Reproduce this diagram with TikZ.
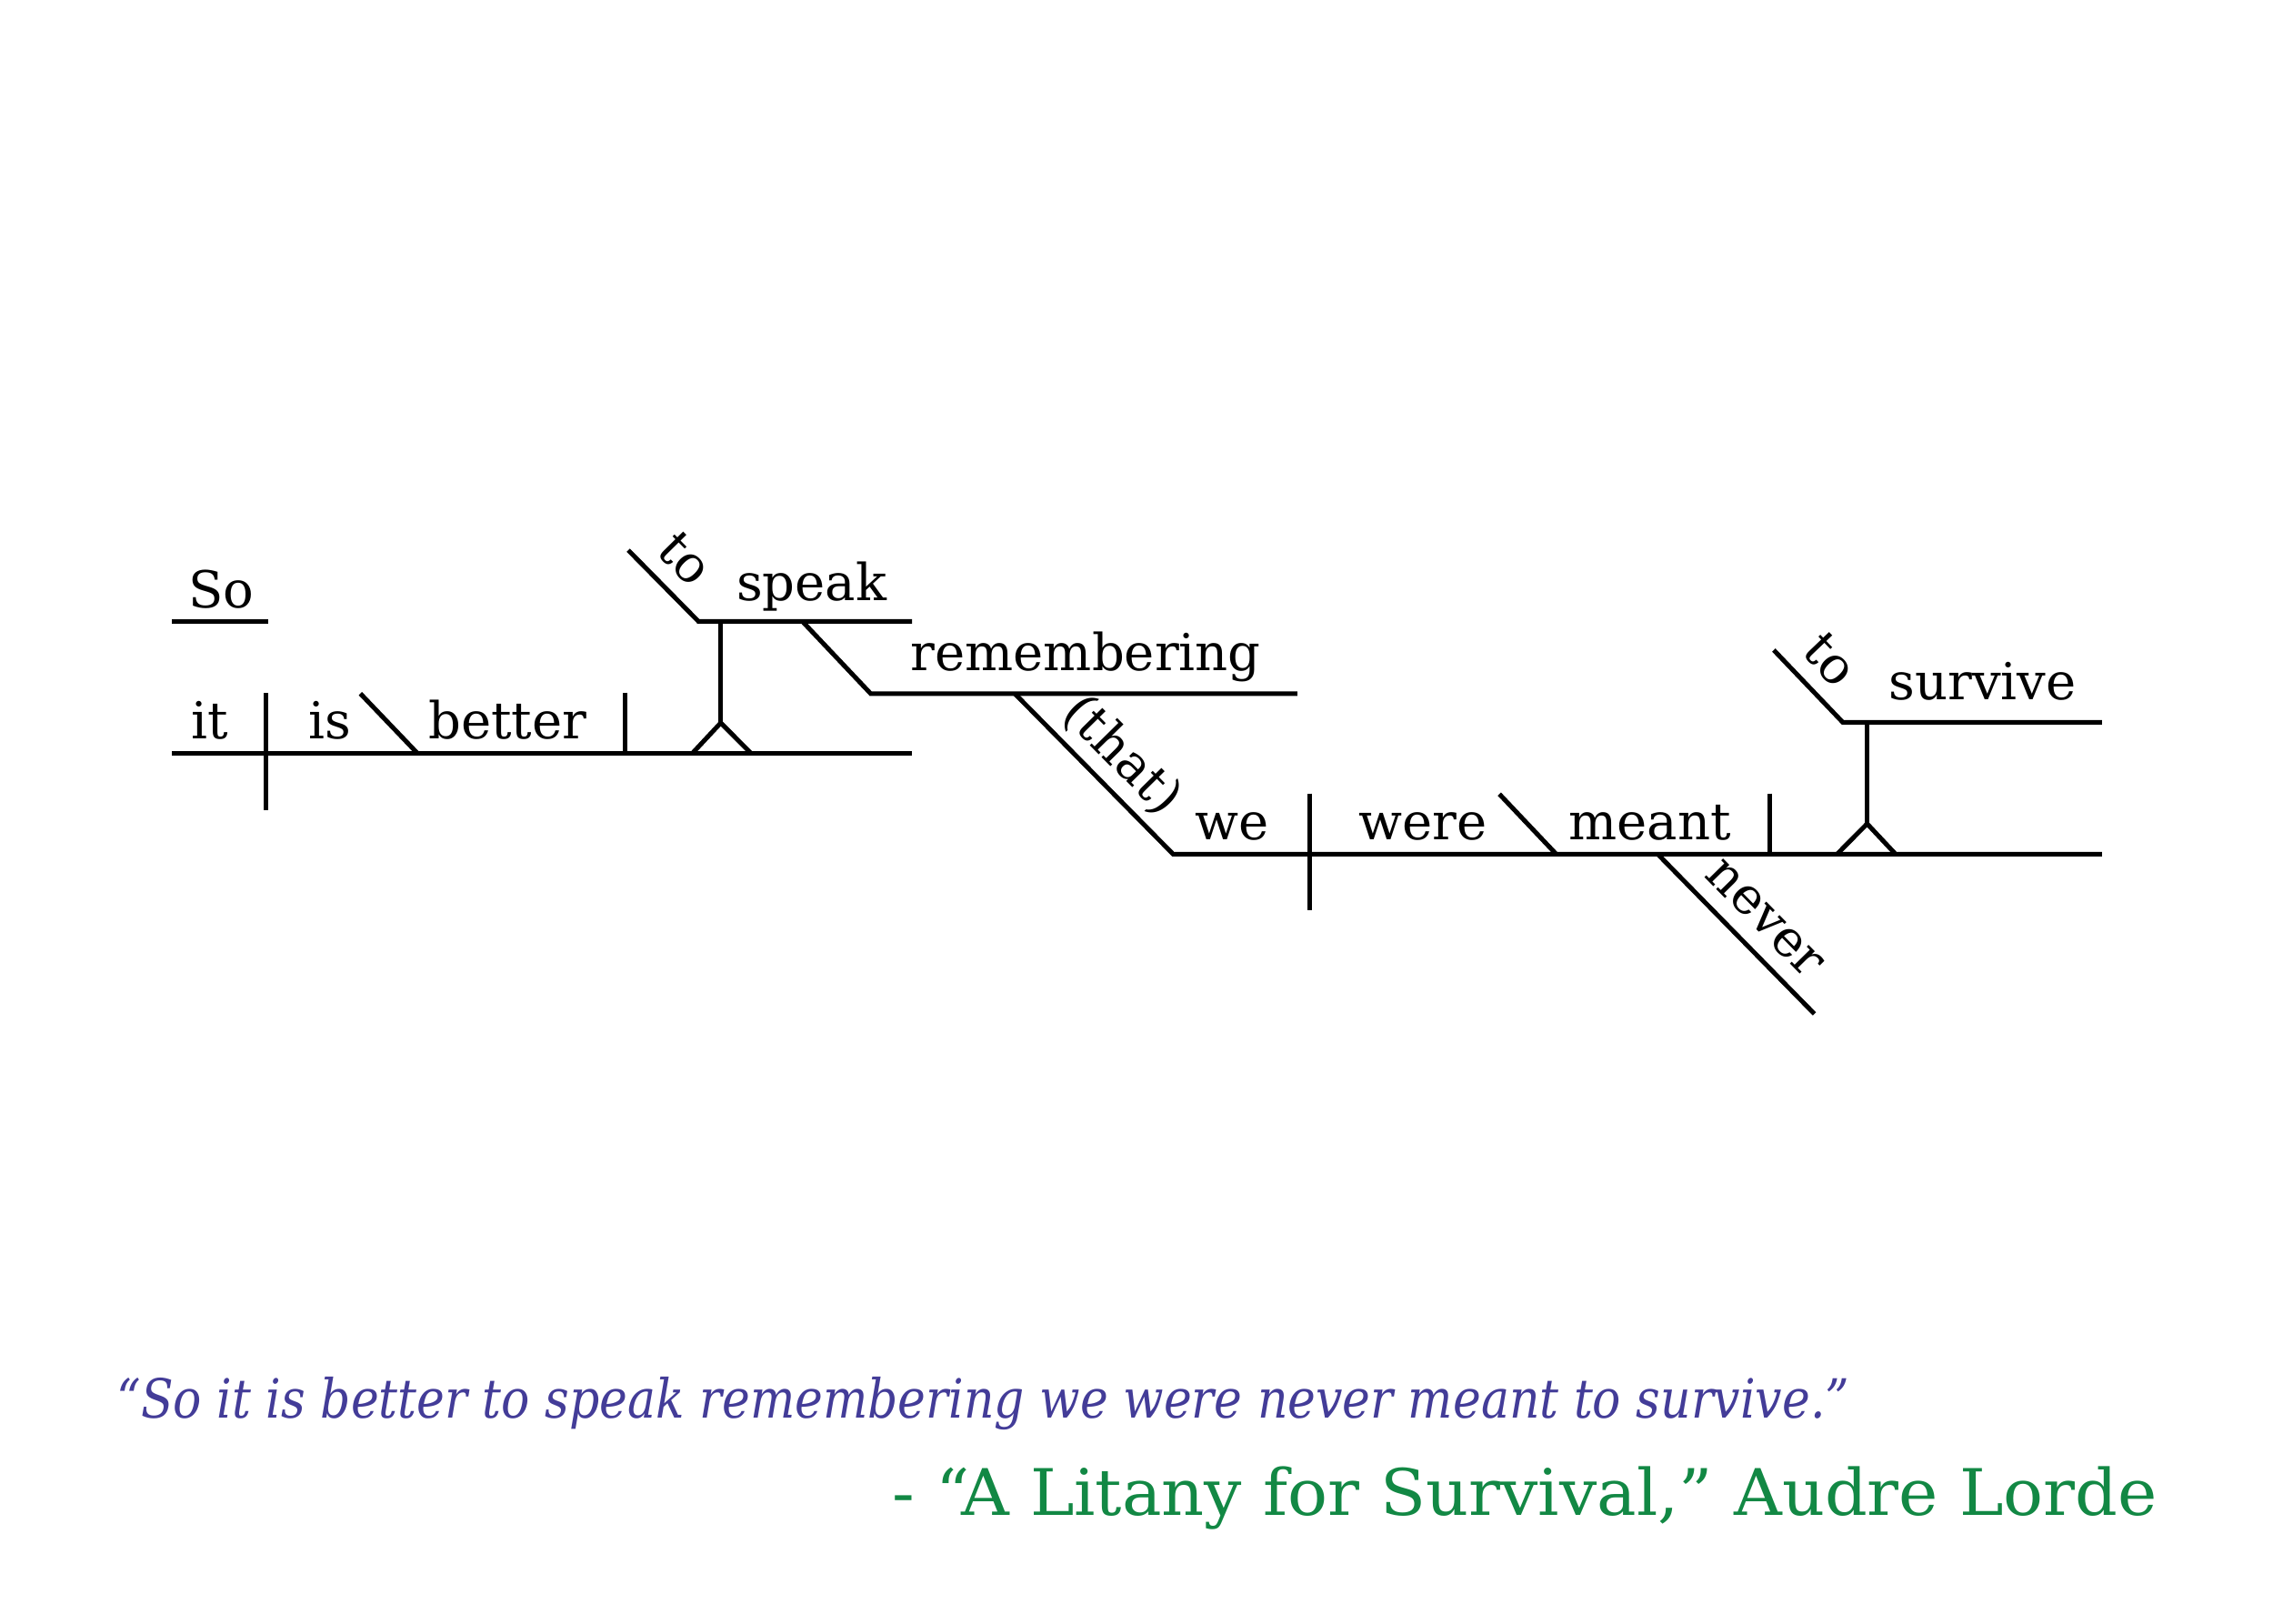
\documentclass[tikz,border=0pt]{standalone}
\usepackage{fontspec}
\setmainfont{DejaVu Serif}
\newfontfamily\quotefont[FakeStretch=0.876]{DejaVu Serif}
\newfontfamily\sourcefont[FakeStretch=1.035]{DejaVu Serif}
\definecolor{quotepurple}{RGB}{67,60,152}
\definecolor{sourcegreen}{RGB}{18,136,68}

\begin{document}
\begin{tikzpicture}[scale=0.1,
        word/.style={anchor=base, font=\fontsize{10}{12}\selectfont},
        slantword/.style={sloped, above=3pt, text depth=0pt, font=\fontsize{10}{12}\selectfont},
        rule/.style={black, line width=0.9pt}]
        \tikzstyle{every node}+=[inner sep=0pt]
        \useasboundingbox (0,0) rectangle (156.8,-112.01);
        \draw [rule] (11.88,-42.88) -- (18.5,-42.88);
        \node [word] (so) at (15.28,-41.92) {So};
        \draw [rule] (11.88,-51.98) -- (62.92,-51.98);
        \draw [rule] (18.36,-47.81) -- (18.36,-55.86);
        \draw [rule] (24.86,-47.84) -- (28.82,-51.98);
        \draw [rule] (43.12,-47.77) -- (43.12,-51.98);
        \node [word] (it) at (14.45,-50.97) {it};
        \node [word] (is) at (22.77,-50.97) {is};
        \node [word] (better) at (35.02,-50.97) {better};
        \draw [rule] (47.74,-51.98) -- (49.72,-49.86) -- (51.83,-51.98);
        \draw [rule] (49.72,-49.86) -- (49.72,-42.86);
        \draw [rule] (43.34,-37.95) -- node [slantword, pos=0.46] (toa) {to} (48.18,-42.86) -- (62.92,-42.86);
        \node [word] (speak) at (55.99,-41.4) {speak};
        \draw [rule] (55.35,-42.86) -- (60.06,-47.84) -- (89.49,-47.84);
        \node [word] (remembering) at (74.9,-46.25) {remembering};
        \draw [rule] (70.0,-47.84) -- node [slantword, pos=0.53] (that) {(that)} (80.92,-58.91) -- (145.0,-58.91);
        \draw [rule] (90.33,-54.73) -- (90.33,-62.78);
        \draw [rule] (103.43,-54.77) -- (107.35,-58.91);
        \draw [rule] (122.08,-54.73) -- (122.08,-58.91);
        \node [word] (we) at (85.0,-57.91) {we};
        \node [word] (were) at (98.17,-57.91) {were};
        \node [word] (meant) at (113.82,-57.91) {meant};
        \draw [rule] (114.35,-58.91) -- node [slantword, pos=0.54] (never) {never} (125.16,-69.93);
        \draw [rule] (126.73,-58.91) -- (128.8,-56.82) -- (130.76,-58.91);
        \draw [rule] (128.8,-56.82) -- (128.8,-49.82);
        \draw [rule] (122.36,-44.84) -- node [slantword, pos=0.46] (tob) {to} (127.12,-49.82) -- (145.0,-49.82);
        \node [word] (survive) at (136.76,-48.25) {survive};
        \node [anchor=base west, text=quotepurple, font=\quotefont\itshape\fontsize{10.6}{13}\selectfont] (quote) at (8.0,-97.8) {“So it is better to speak remembering we were never meant to survive.”};
        \node [anchor=base east, text=sourcegreen, font=\sourcefont\fontsize{12.6}{15}\selectfont] (source) at (148.9,-104.53) {- “A Litany for Survival,” Audre Lorde};
\end{tikzpicture}
\end{document}
